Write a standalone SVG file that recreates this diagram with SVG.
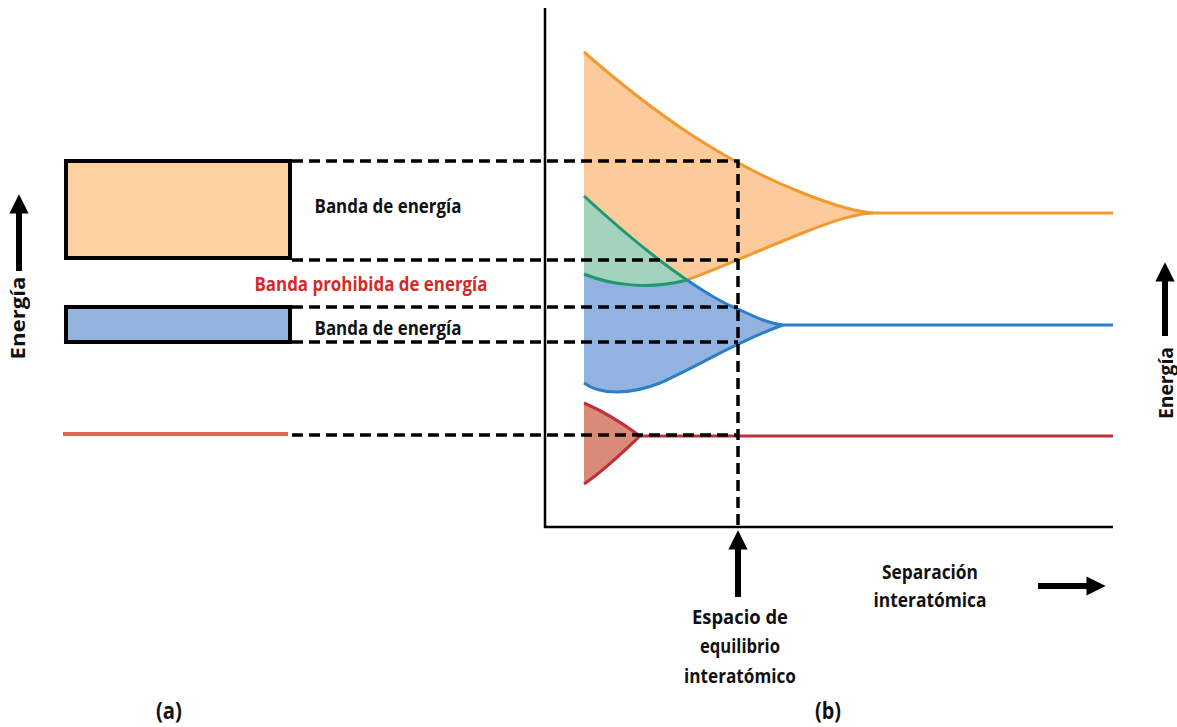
<svg xmlns="http://www.w3.org/2000/svg" width="1177" height="727" viewBox="0 0 1177 727">
<defs>
<style>
.t{font-family:"Open Sans","Noto Sans","Liberation Sans",sans-serif;font-weight:700;font-size:20px;fill:#111;text-anchor:middle}
.big{font-size:23px}
.red{fill:#d42a2a}
.dash{fill:none;stroke:#000;stroke-width:3.5;stroke-dasharray:11 6}
.axis{fill:none;stroke:#000;stroke-width:2.5}
.arr{fill:none;stroke:#000;stroke-width:6}
.box{stroke:#000;stroke-width:4}
</style>
<marker id="ah" viewBox="0 0 10 10" refX="6" refY="5" markerWidth="3.2" markerHeight="3.2" orient="auto" markerUnits="strokeWidth">
<path d="M0,0 L10,5 L0,10 Z" fill="#000"/>
</marker>
</defs>
<rect width="1177" height="727" fill="#fff"/>

<g id="axes">
<path class="axis" d="M545,8 V527 H1113"/>
</g>

<g id="bands-b">
<path d="M584,52 C650,110 720,160 800,192 C830,204 855,212 873,213 C855,214 835,220 800,234 C760,250 720,268 687,280 C650,255 610,220 584,196 Z" fill="#fbcb9b"/>
<path d="M584,196 C610,220 650,255 687,280 C650,290 610,285 584,274 Z" fill="#a3d2bd"/>
<path d="M584,274 C610,285 650,290 687,280 C705,292 720,302 740,310 C755,317 770,324 783,325 C740,340 700,365 660,383 C630,395 600,395 584,383 Z" fill="#92b3e0"/>
<path d="M584,403 C605,412 625,425 640,436 C625,450 605,470 584,484 Z" fill="#d98b78"/>
<g fill="none" stroke-width="3">
<path d="M584,52 C650,110 720,160 800,192 C830,204 855,212 873,213 H1113" stroke="#f29a32"/>
<path d="M687,280 C720,268 760,250 800,234 C835,220 855,214 873,213" stroke="#f29a32"/>
<path d="M687,280 C705,292 720,302 740,310 C755,317 770,324 783,325 H1113" stroke="#2b7fc6"/>
<path d="M584,383 C600,395 630,395 660,383 C700,365 740,340 783,325" stroke="#2b7fc6"/>
<path d="M584,196 C610,220 650,255 687,280" stroke="#1e9a72"/>
<path d="M584,274 C610,285 650,290 687,280" stroke="#1e9a72"/>
<path d="M584,403 C605,412 625,425 640,436 H1113" stroke="#c0303c"/>
<path d="M584,484 C605,470 625,450 640,436" stroke="#c0303c"/>
</g>
</g>

<g id="bands-a">
<rect class="box" x="66" y="161" width="224" height="97" fill="#fdd0a0"/>
<rect class="box" x="66" y="307" width="224" height="35" fill="#94b4e0"/>
<line x1="63" y1="434" x2="288" y2="434" stroke="#e2644f" stroke-width="4"/>
</g>

<g id="connectors">
<path class="dash" d="M292,161 H738 V527"/>
<path class="dash" d="M292,260 H738"/>
<path class="dash" d="M292,307 H738"/>
<path class="dash" d="M292,342 H738"/>
<path class="dash" d="M292,435 H738"/>
<line class="arr" x1="738" y1="597" x2="738" y2="538" marker-end="url(#ah)"/>
<line class="arr" x1="1038" y1="586" x2="1098" y2="586" marker-end="url(#ah)"/>
<line class="arr" x1="19" y1="271" x2="19" y2="202" marker-end="url(#ah)"/>
<line class="arr" x1="1165" y1="336" x2="1165" y2="270" marker-end="url(#ah)"/>
</g>

<g id="labels">
<text class="t" x="388" y="213" textLength="147" lengthAdjust="spacingAndGlyphs">Banda de energía</text>
<text class="t red" x="371" y="291" textLength="233" lengthAdjust="spacingAndGlyphs">Banda prohibida de energía</text>
<text class="t" x="388" y="335" textLength="147" lengthAdjust="spacingAndGlyphs">Banda de energía</text>
<text class="t" transform="translate(25,318) rotate(-90)" textLength="83" lengthAdjust="spacingAndGlyphs">Energía</text>
<text class="t" transform="translate(1173,383) rotate(-90)" textLength="72" lengthAdjust="spacingAndGlyphs">Energía</text>
<text class="t" x="740" y="624" textLength="96" lengthAdjust="spacingAndGlyphs">Espacio de</text>
<text class="t" x="740" y="653" textLength="80" lengthAdjust="spacingAndGlyphs">equilibrio</text>
<text class="t" x="740" y="683" textLength="112" lengthAdjust="spacingAndGlyphs">interatómico</text>
<text class="t" x="930" y="579" textLength="96" lengthAdjust="spacingAndGlyphs">Separación</text>
<text class="t" x="930" y="607" textLength="113" lengthAdjust="spacingAndGlyphs">interatómica</text>
<text class="t big" x="169" y="719" textLength="26" lengthAdjust="spacingAndGlyphs">(a)</text>
<text class="t big" x="828" y="719" textLength="26" lengthAdjust="spacingAndGlyphs">(b)</text>
</g>
</svg>
